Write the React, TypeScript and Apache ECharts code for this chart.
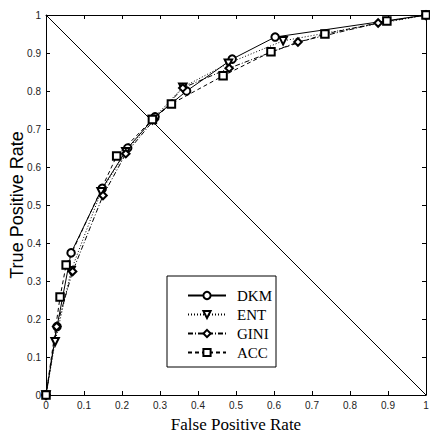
import React, { useEffect, useRef } from "react";
import * as echarts from "echarts";

const seriesNames = ["DKM", "ENT", "GINI", "ACC"];

const dkmPoints = [
  [0, 0], [0.029, 0.18], [0.066, 0.374], [0.148, 0.544], [0.215, 0.65],
  [0.287, 0.732], [0.37, 0.8], [0.49, 0.884], [0.603, 0.942], [1, 1],
];
const entPoints = [
  [0, 0], [0.024, 0.14], [0.066, 0.327], [0.145, 0.535], [0.21, 0.64],
  [0.28, 0.725], [0.36, 0.81], [0.48, 0.873], [0.624, 0.932], [1, 1],
];
const giniPoints = [
  [0, 0], [0.028, 0.18], [0.07, 0.325], [0.15, 0.525], [0.21, 0.635],
  [0.285, 0.725], [0.36, 0.808], [0.482, 0.86], [0.663, 0.929], [0.874, 0.979], [1, 1],
];
const accPoints = [
  [0, 0], [0.037, 0.258], [0.053, 0.342], [0.186, 0.629], [0.28, 0.725],
  [0.33, 0.766], [0.466, 0.84], [0.592, 0.903], [0.734, 0.95], [0.897, 0.984], [1, 1],
];
const chancePoints = [[0, 1], [1, 0]];

const xTitle = "False Positive Rate";
const yTitle = "True Positive Rate";

export default function App() {
  const ref = useRef<HTMLDivElement>(null);
  useEffect(() => {
    if (!ref.current) return;
    const chart = echarts.init(ref.current, null, { renderer: "svg" });
    const labelStyle = { color: "#222", fontFamily: "Liberation Sans, Arial, sans-serif", fontSize: 10 };
    const baseAxis = {
      type: "value" as const,
      min: 0,
      max: 1,
      interval: 0.1,
      axisLine: { show: true, onZero: false, lineStyle: { color: "#000", width: 1 } },
      axisTick: { show: true, inside: true, length: 4, lineStyle: { color: "#000", width: 1 } },
      splitLine: { show: false },
    };
    const mk = (name: string, data: number[][], symbol: string, dash: any, rotate = 0) => ({
      name,
      type: "line",
      data,
      symbol,
      symbolSize: 7.5,
      symbolRotate: rotate,
      showAllSymbol: true,
      itemStyle: { color: "#000", borderColor: "#000", borderWidth: 1 },
      lineStyle: { color: "#000", width: 1, type: dash },
      z: 3,
    });
    chart.setOption({
      animation: false,
      backgroundColor: "#fff",
      grid: { left: 46, right: 4, top: 15, bottom: 44, containLabel: false, outerBoundsMode: "none" },
      xAxis: [
        {
          ...baseAxis,
          position: "bottom",
          axisLabel: { ...labelStyle, margin: 5 },
          name: xTitle,
          nameLocation: "middle",
          nameGap: 21,
          nameTextStyle: { fontFamily: "Liberation Serif, Times New Roman, serif", fontSize: 17, color: "#000" },
        },
        { ...baseAxis, position: "top", axisLabel: { show: false } },
      ],
      yAxis: [
        {
          ...baseAxis,
          position: "left",
          axisLabel: { ...labelStyle, margin: 5 },
          name: yTitle,
          nameLocation: "middle",
          nameGap: 20,
          nameMoveOverlap: false,
          nameTextStyle: { fontFamily: "Liberation Sans, Arial, sans-serif", fontSize: 18, color: "#000" },
        },
        { ...baseAxis, position: "right", axisLabel: { show: false } },
      ],
      legend: {
        data: seriesNames,
        orient: "vertical",
        left: 167,
        top: 276,
        width: 108,
        itemWidth: 38,
        itemHeight: 9,
        itemGap: 4,
        padding: [12, 4, 7, 20],
        borderColor: "#000",
        borderWidth: 1,
        backgroundColor: "#fff",
        formatter: (n: string) => "{t|" + n + "}",
        textStyle: {
          rich: {
            t: { fontFamily: "Liberation Serif, Times New Roman, serif", fontSize: 15, color: "#000", padding: [0, 0, 0, 6] },
          },
        },
      },
      series: [
        {
          name: "chance",
          type: "line",
          data: chancePoints,
          symbol: "none",
          lineStyle: { color: "#000", width: 1 },
          z: 2,
        },
        mk("DKM", dkmPoints, "emptyCircle", "solid"),
        mk("ENT", entPoints, "emptyTriangle", [1, 2], 180),
        mk("GINI", giniPoints, "emptyDiamond", [5, 2, 1, 2]),
        mk("ACC", accPoints, "emptyRect", [4, 3]),
      ],
    });
    return () => chart.dispose();
  }, []);
  return <div ref={ref} style={{ width: 430, height: 439, position: "absolute", left: 0, top: 0 }} />;
}
